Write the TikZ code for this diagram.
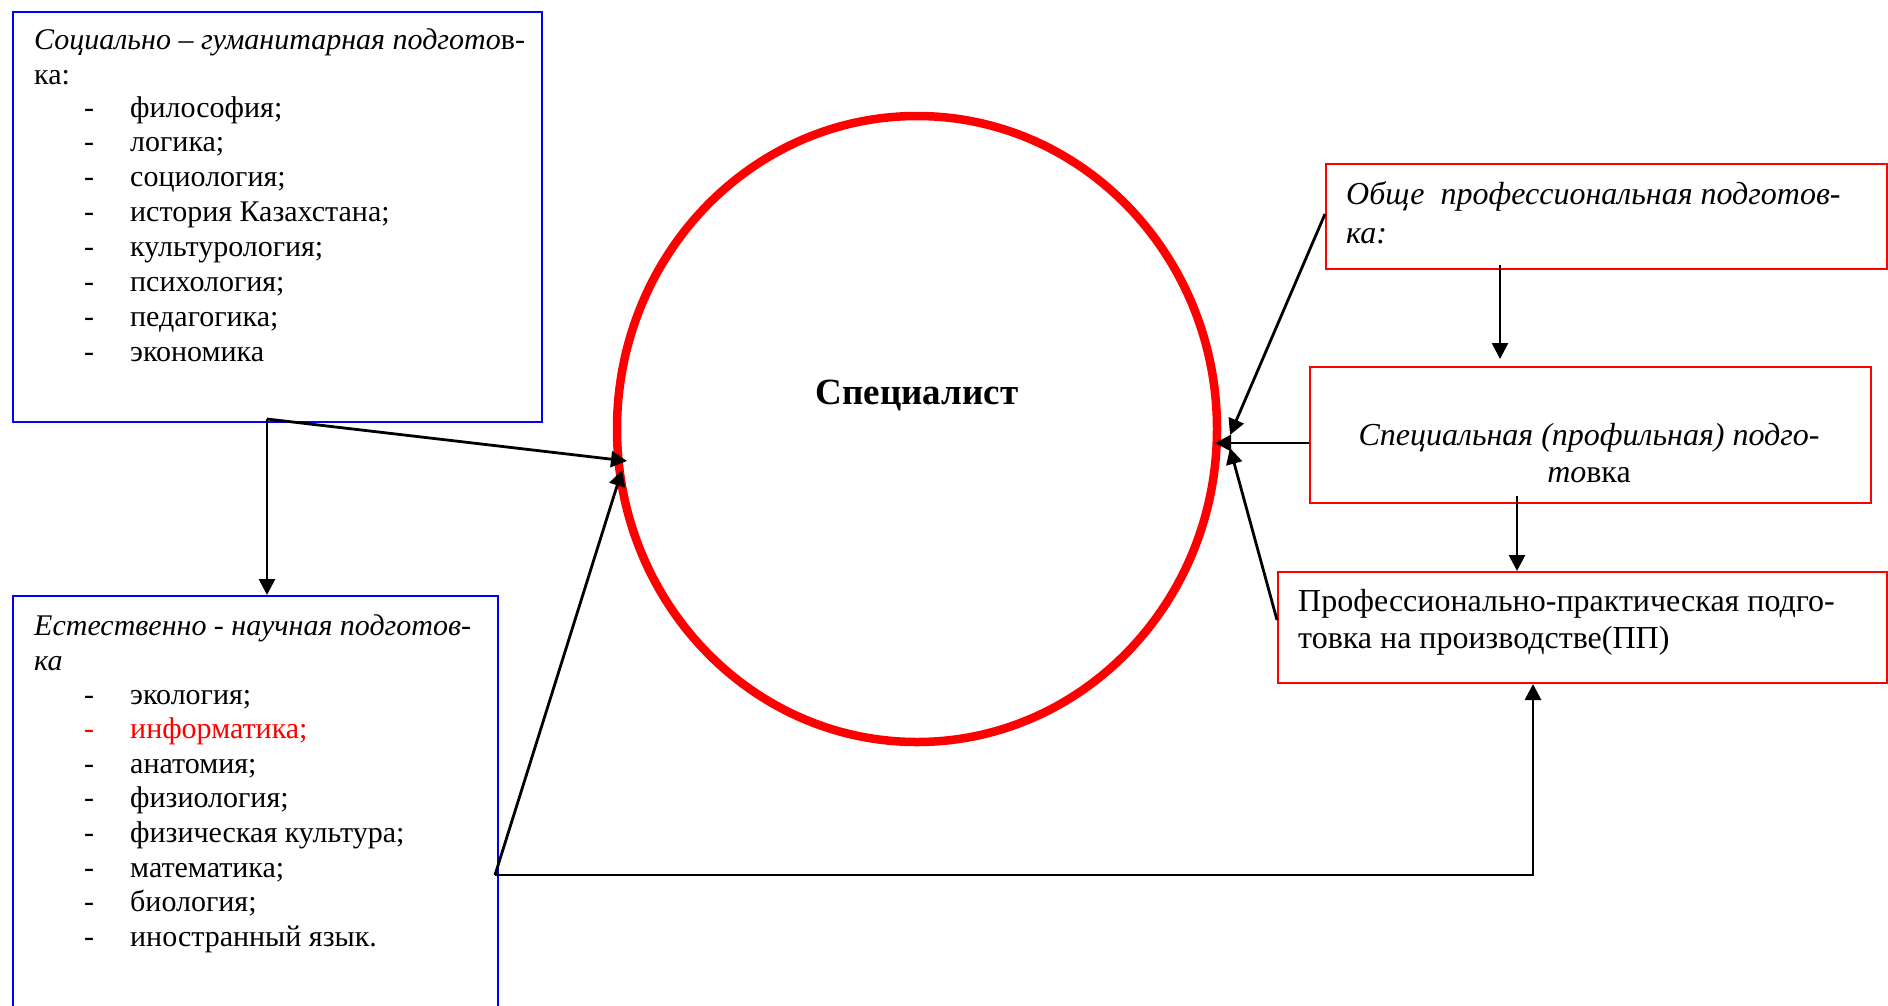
\documentclass[tikz,border=0pt]{standalone}
\usepackage{fontspec}
\setmainfont{Liberation Serif}
\usetikzlibrary{arrows.meta,calc,shapes.geometric}

\begin{document}
\begin{tikzpicture}[x=1pt,y=-1pt,
  blubox/.style={draw=blue, line width=2pt, rectangle, inner sep=0pt, anchor=north west},
  redbox/.style={draw=red, line width=2pt, rectangle, inner sep=0pt, anchor=north west},
  txt/.style={anchor=base west, inner sep=0pt, font=\fontsize{30}{35}\selectfont},
  rtxt/.style={anchor=base west, inner sep=0pt, font=\fontsize{32}{37}\selectfont},
  ctxt/.style={anchor=base, inner sep=0pt, font=\fontsize{32}{37}\selectfont},
  link/.style={line width=2.8pt, -{Triangle[length=16pt,width=16pt]}}
]
\useasboundingbox (0,0) rectangle (1888,1005);
\clip (0,0) rectangle (1888,1005);

% boxes
\node[blubox, minimum width=529pt, minimum height=410pt] (soc) at (12,11) {};
\node[blubox, minimum width=485pt, minimum height=440pt] (nat) at (12,595) {};
\node[redbox, minimum width=561pt, minimum height=105pt] (obsh) at (1325,163) {};
\node[redbox, minimum width=561pt, minimum height=136pt] (spez) at (1309,366) {};
\node[redbox, minimum width=609pt, minimum height=111pt] (prak) at (1277,571) {};

% central circle
\node[draw=red, line width=8.5pt, ellipse, minimum width=600pt, minimum height=626pt] (spec) at (917,429) {};
\node[anchor=base, inner sep=0pt, font=\fontsize{37}{42}\selectfont\bfseries] (spectxt) at (917,404) {Специалист};

% social and humanitarian block
\node[txt] (socT1) at (34,49) {\textit{Социально – гуманитарная подгото}в-};
\node[txt] (socT2) at (34,84) {ка:};
\foreach \t [count=\i from 0] in {{философия;},{логика;},{социология;},{история Казахстана;},{культурология;},{психология;},{педагогика;},{экономика}}
  \node[txt] (soc\i) at (84,{117+34.9*\i}) {\makebox[46pt][l]{-}\t};

% natural science block
\node[txt] (natT1) at (34,635) {\textit{Естественно - научная подготов-}};
\node[txt] (natT2) at (34,670) {\textit{ка}};
\foreach \t [count=\i from 0] in {{экология;},{\color{red}информатика;},{анатомия;},{физиология;},{физическая культура;},{математика;},{биология;},{иностранный язык.}}
  \node[txt] (nat\i) at (84,{704+34.6*\i}) {\makebox[46pt][l]{\ifnum\i=1 \color{red}\fi-}\t};

% professional blocks
\node[rtxt] (obshT1) at (1346,204) {\textit{Обще\ \ профессиональная подготов-}};
\node[rtxt] (obshT2) at (1346,243) {\textit{ка:}};
\node[ctxt] (spezT1) at (1589,445) {\textit{Специальная (профильная) подго-}};
\node[ctxt] (spezT2) at (1589,482) {\textit{то}вка};
\node[rtxt] (prakT1) at (1298,611) {Профессионально-практическая подго-};
\node[rtxt] (prakT2) at (1298,648) {товка на производстве(ПП)};

% junctions and entry points on the circle
\coordinate (j1) at ($(soc.south west)+(255,-4)$);
\coordinate (j2) at ($(nat.north east)+(-4,280)$);
\coordinate (pb) at ($(prak.south west)+(256,0)$);
\coordinate (inA) at ($(spec.center)+(-290,32)$);
\coordinate (inB) at ($(spec.center)+(-295,41)$);
\coordinate (inC) at ($(spec.center)+(313,6)$);
\coordinate (inD) at ($(spec.center)+(298,14)$);
\coordinate (inE) at ($(spec.center)+(313,19)$);
\coordinate (oA) at ($(obsh.south west)+(175,-5)$);
\coordinate (oB) at ($(spez.south west)+(208,-8)$);

% connectors
\draw[link] (j1) -- (nat.north -| j1);
\draw[link] (j1) -- (inA);
\draw[link] (j2) -- (inB);
\draw[link] (j2) -- (j2 -| pb) -- (pb);
\draw[link] ($(obsh.north west)+(0,51)$) -- (inC);
\draw[link] (oA) -- ($(spez.north west)+(191,-7)$);
\draw[link] ($(spez.north west)+(0,77)$) -- (inD);
\draw[link] (oB) -- (prak.north -| oB);
\draw[link] ($(prak.north west)+(0,49)$) -- (inE);
\end{tikzpicture}
\end{document}
